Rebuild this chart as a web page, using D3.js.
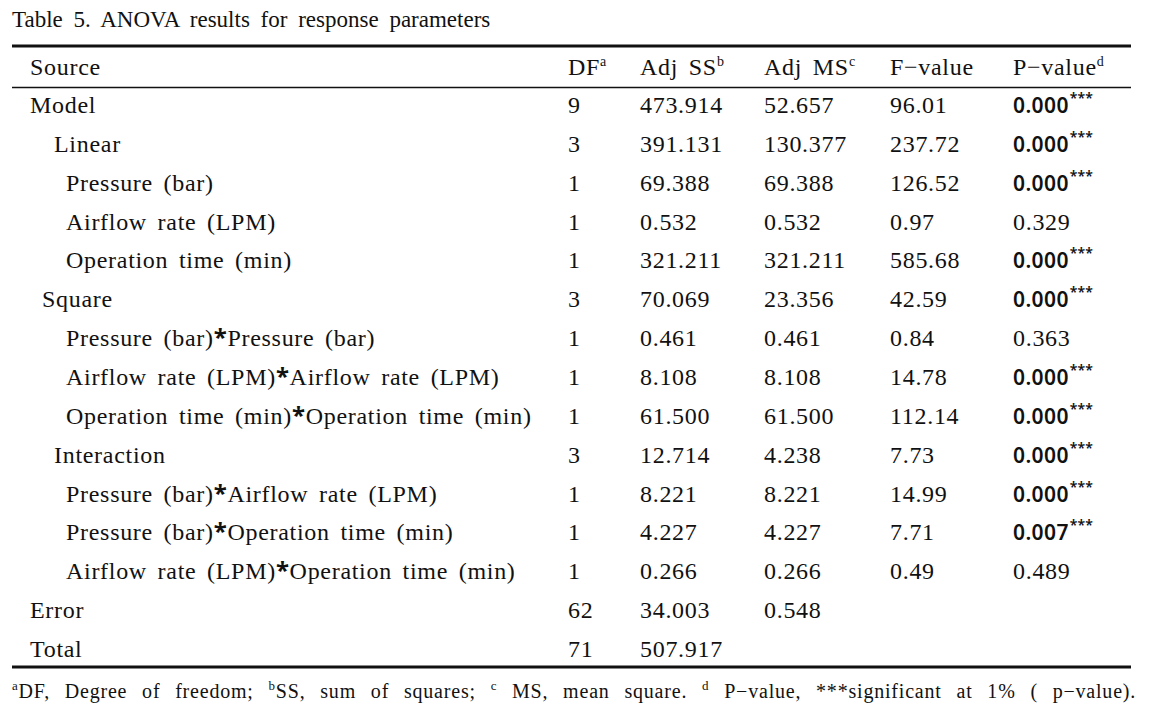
<!DOCTYPE html>
<html>
<head>
<meta charset="utf-8">
<script src="https://cdn.jsdelivr.net/npm/d3@7"></script>
<style>
  body { margin: 0; background: #fff; }
  text { font-family: "Liberation Serif", "DejaVu Serif", serif; fill: #111; word-spacing: 4px; letter-spacing: 0.7px; }
  .sig { font-family: "Noto Sans", "DejaVu Sans", sans-serif; font-weight: 600; word-spacing: 0; letter-spacing: 0.4px; }
  .ast { font-family: "Noto Sans", "DejaVu Sans", sans-serif; font-weight: 700; }
</style>
</head>
<body>
<script>
// table contents
var sources = ["Model", "Linear", "Pressure (bar)", "Airflow rate (LPM)", "Operation time (min)",
  "Square", "Pressure (bar)*Pressure (bar)", "Airflow rate (LPM)*Airflow rate (LPM)",
  "Operation time (min)*Operation time (min)", "Interaction", "Pressure (bar)*Airflow rate (LPM)",
  "Pressure (bar)*Operation time (min)", "Airflow rate (LPM)*Operation time (min)", "Error", "Total"];
var levels = [0, 2, 3, 3, 3, 1, 3, 3, 3, 2, 3, 3, 3, 0, 0];
var dfs = ["9", "3", "1", "1", "1", "3", "1", "1", "1", "3", "1", "1", "1", "62", "71"];
var adjSS = ["473.914", "391.131", "69.388", "0.532", "321.211", "70.069", "0.461", "8.108",
  "61.500", "12.714", "8.221", "4.227", "0.266", "34.003", "507.917"];
var adjMS = ["52.657", "130.377", "69.388", "0.532", "321.211", "23.356", "0.461", "8.108",
  "61.500", "4.238", "8.221", "4.227", "0.266", "0.548", ""];
var fValues = ["96.01", "237.72", "126.52", "0.97", "585.68", "42.59", "0.84", "14.78",
  "112.14", "7.73", "14.99", "7.71", "0.49", "", ""];
var pValues = ["0.000", "0.000", "0.000", "0.329", "0.000", "0.000", "0.363", "0.000",
  "0.000", "0.000", "0.000", "0.007", "0.489", "", ""];
var significant = [1, 1, 1, 0, 1, 1, 0, 1, 1, 1, 1, 1, 0, 0, 0];

var headers = [["Source", ""], ["DF", "a"], ["Adj SS", "b"], ["Adj MS", "c"], ["F-value", ""], ["P-value", "d"]];
var columns = [sources, dfs, adjSS, adjMS, fValues, pValues];

var width = 1151, height = 715;
var svg = d3.select("body").append("svg")
  .attr("width", width)
  .attr("height", height);

var colX = d3.scaleOrdinal().domain(d3.range(6)).range([30, 568, 640, 764, 890, 1013]);
var indentX = d3.scaleOrdinal().domain([0, 1, 2, 3]).range([0, 12, 24, 36]);
var rowY = d3.scalePoint().domain(d3.range(sources.length)).range([113, 657]);

// title
svg.append("text")
  .attr("x", 12)
  .attr("y", 27)
  .style("font-size", "23px")
  .style("letter-spacing", "0px")
  .style("word-spacing", "5px")
  .text("Table 5. ANOVA results for response parameters");

// rules
svg.append("line").attr("x1", 12).attr("x2", 1131).attr("y1", 46).attr("y2", 46)
  .attr("stroke", "#111").attr("stroke-width", 3);
svg.append("line").attr("x1", 12).attr("x2", 1131).attr("y1", 87.5).attr("y2", 87.5)
  .attr("stroke", "#111").attr("stroke-width", 1.5);
svg.append("line").attr("x1", 12).attr("x2", 1131).attr("y1", 667).attr("y2", 667)
  .attr("stroke", "#111").attr("stroke-width", 3);

// header
var head = svg.selectAll("text.head")
  .data(headers)
  .enter().append("text")
  .attr("class", "head")
  .attr("x", function(d, i) { return colX(i); })
  .attr("y", 75)
  .style("font-size", "24px");
head.append("tspan").text(function(d) { return d[0].replace("-", "\u2212"); });
head.append("tspan")
  .attr("dy", -9)
  .style("font-size", "14px")
  .text(function(d) { return d[1]; });

// body cells
columns.forEach(function(col, c) {
  var cells = svg.selectAll("text.c" + c)
    .data(col)
    .enter().append("text")
    .attr("class", function(d, i) { return "c" + c + (c === 5 && significant[i] ? " sig" : ""); })
    .attr("x", function(d, i) { return colX(c) + (c === 0 ? indentX(levels[i]) : 0); })
    .attr("y", function(d, i) { return rowY(i); })
    .style("font-size", function(d, i) { return (c === 5 && significant[i]) ? "21px" : "24px"; });
  if (c === 0) {
    // interaction terms: heavier asterisk
    cells.each(function(d) {
      var t = d3.select(this);
      d.split("*").forEach(function(part, k) {
        if (k > 0) t.append("tspan").attr("class", "ast").text("*");
        t.append("tspan").text(part);
      });
    });
  } else {
    cells.text(function(d) { return d; });
  }
});

// significance stars
svg.selectAll("text.c5.sig").each(function(d) {
  var bb = this.getBBox();
  var y = +d3.select(this).attr("y");
  svg.append("text")
    .attr("class", "sig")
    .attr("x", bb.x + bb.width + 1)
    .attr("y", y - 10)
    .style("font-size", "14px")
    .style("letter-spacing", "0px")
    .text("***");
});

// footnote
var foot = svg.append("text")
  .attr("x", 12)
  .attr("y", 698)
  .style("font-size", "20px")
  .style("letter-spacing", "0.8px")
  .style("word-spacing", "9px");
var parts = [["a", true], ["DF, Degree of freedom; ", false], ["b", true], ["SS, sum of squares; ", false],
  ["c", true], [" MS, mean square. ", false], ["d", true], [" P\u2212value, ***significant at 1% ( p\u2212value).", false]];
parts.forEach(function(p) {
  foot.append("tspan")
    .attr("dy", p[1] ? -8 : 8)
    .style("font-size", p[1] ? "13px" : "20px")
    .text(p[0]);
});
foot.select("tspan").attr("dy", -8);
</script>
</body>
</html>
